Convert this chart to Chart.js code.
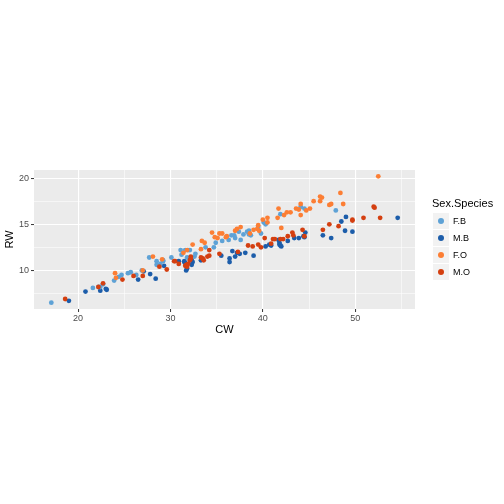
<!DOCTYPE html>
<html lang="en">
<head>
    <meta charset="UTF-8">
    <title>crabs CW vs RW</title>
    <script src="https://cdn.jsdelivr.net/npm/chart.js"></script>
    <style>
        body { margin: 0; background: #ffffff; font-family: "Liberation Sans", Arial, sans-serif; }
        #wrap { position: relative; width: 504px; height: 504px; }
        canvas { position: absolute; left: 0; top: 0; }
        #legend { position: absolute; left: 432px; top: 195px; color: #000; }
        #legend .ttl { font-size: 11px; height: 17px; line-height: 16px; }
        #legend .row { display: flex; align-items: center; height: 17px; }
        #legend .key { width: 16px; height: 16px; background: #f2f2f2; border: 0.5px solid #fff; position: relative; }
        #legend .dot { position: absolute; left: 5px; top: 5px; width: 6px; height: 6px; border-radius: 50%; }
        #legend .lab { font-size: 9px; margin-left: 3px; }
    </style>
</head>
<body>
<div id="wrap">
    <canvas id="chart" width="504" height="504"></canvas>
    <div id="legend"></div>
</div>
<script>
// crabs data, CW (carapace width) and RW (rear width)
const groups = ['F.B', 'M.B', 'F.O', 'M.O'];
const colors = ['#5ea2d6', '#1c5daa', '#fc7e34', '#d43f10'];

const fbCW = [17.1,22.7,21.6,22.2,22.4,23.9,24.4,24.7,25.4,26.3,25.7,26.9,29.2,28.5,27.7,28.5,30.1,28.9,29.2,31.6,
              31.2,31.1,31.9,31.8,32.6,32.1,32.7,33.8,34.9,34.7,35.6,36.9,37.4,36.3,37.0,36.6,38.5,38.3,37.6,38.7,
              37.9,39.5,38.5,40.3,40.1,39.8,41.9,44.1,44.5,47.9];
const fbRW = [6.5,8.5,8.1,8.2,8.2,8.9,9.3,9.5,9.7,9.5,9.8,10.0,11.0,11.0,11.4,10.6,11.4,10.7,11.1,12.2,
              11.7,12.2,12.2,11.4,11.5,12.2,11.8,12.5,13.0,12.5,13.2,13.8,14.2,13.3,13.5,13.8,14.3,14.2,13.3,13.8,
              13.9,14.7,13.9,15.0,15.2,14.0,16.1,16.9,16.7,16.5];

const mbCW = [19.0,20.8,22.4,23.1,23.0,26.5,27.1,28.4,27.8,29.3,31.6,31.5,31.7,31.8,31.5,30.9,32.3,32.4,32.3,33.3,
              35.5,36.4,36.4,37.0,37.2,36.7,37.5,40.3,38.1,39.0,40.7,41.7,40.9,41.8,43.4,41.8,42.7,42.0,41.9,43.9,
              44.5,44.6,44.4,49.0,47.4,46.5,48.5,49.7,48.9,54.6];
const mbRW = [6.7,7.7,7.8,7.9,8.0,9.0,9.9,9.1,9.6,10.5,10.8,11.0,10.0,10.2,10.9,11.0,10.6,10.9,11.1,11.1,
              11.6,11.3,10.9,11.5,11.9,12.1,11.8,12.6,11.9,11.6,12.8,13.3,12.7,13.0,13.5,12.8,13.2,12.6,12.7,13.5,
              13.6,14.1,13.7,15.8,13.5,13.8,15.3,14.2,14.3,15.7];

const foCW = [24.0,24.1,27.0,28.1,29.1,31.4,32.4,31.8,33.4,33.7,33.3,35.1,35.3,34.5,34.8,36.0,36.1,35.6,37.0,37.2,
              39.6,39.0,37.6,38.6,39.5,43.0,40.5,40.0,41.6,42.0,39.4,40.5,41.7,42.3,42.6,43.6,43.9,46.4,45.1,44.1,
              44.1,45.5,46.2,44.7,48.4,46.2,47.2,47.4,48.7,52.5];
const foRW = [9.7,9.2,10.0,11.5,11.2,11.9,12.8,12.2,13.2,13.0,12.3,13.5,14.0,14.1,13.6,13.6,13.7,14.0,14.3,14.5,
              14.3,14.4,14.7,14.0,14.9,16.3,15.7,15.5,15.7,14.6,14.5,15.2,16.7,16.0,16.3,16.7,16.6,17.9,16.7,17.2,
              16.0,17.5,17.5,16.5,18.4,18.0,17.1,17.2,17.2,20.2];

const moCW = [18.6,22.2,22.7,24.8,26.0,27.0,28.8,30.4,29.6,30.5,32.2,31.8,31.6,31.9,31.7,30.9,32.2,33.5,32.1,33.3,
              34.0,33.6,34.2,35.3,34.2,38.9,39.5,37.3,38.4,39.8,40.9,41.3,42.7,42.2,41.9,40.2,41.1,43.3,43.2,44.3,
              44.5,46.5,47.2,49.7,49.7,48.2,50.9,52.0,52.7,52.1];
const moRW = [6.9,8.2,8.6,9.0,9.4,9.4,10.4,11.0,10.1,11.0,11.5,10.4,10.5,10.7,10.6,10.7,11.3,11.3,11.1,11.4,
              11.5,11.1,12.2,11.8,11.6,12.6,12.8,12.0,12.7,12.5,12.9,13.4,13.7,13.4,13.4,13.5,13.4,13.8,14.1,14.4,
              13.7,14.4,15.0,15.5,15.4,14.8,15.7,16.9,15.7,16.8];

const xTicks = [20, 30, 40, 50];
const yTicks = [10, 15, 20];

const cwAll = [fbCW, mbCW, foCW, moCW];
const rwAll = [fbRW, mbRW, foRW, moRW];
// drawing order as in the data rows: M.B, F.B, M.O, F.O
const drawOrder = [3, 4, 1, 2];

function pts(xs, ys) { return xs.map((x, i) => ({ x: x, y: ys[i] })); }

function expand(arrs) {
    const all = [].concat(...arrs);
    const lo = Math.min(...all), hi = Math.max(...all);
    const pad = (hi - lo) * 0.05;
    return [lo - pad, hi + pad];
}
const xr = expand(cwAll);
const yr = expand(rwAll);

const datasets = groups.map((g, i) => ({
    label: g,
    data: pts(cwAll[i], rwAll[i]),
    backgroundColor: colors[i],
    borderWidth: 0,
    pointRadius: 2.4,
    order: drawOrder[i]
}));

const isMajor = (v, list) => list.some(t => Math.abs(t - v) < 1e-6);

const panelBg = {
    id: 'panelBg',
    beforeDraw(chart) {
        const a = chart.chartArea, c = chart.ctx;
        c.save();
        c.fillStyle = '#ebebeb';
        c.fillRect(a.left, a.top, a.right - a.left, a.bottom - a.top);
        c.restore();
    }
};

new Chart(document.getElementById('chart'), {
    type: 'scatter',
    data: { datasets: datasets },
    plugins: [panelBg],
    options: {
        responsive: false,
        animation: false,
        layout: { padding: { left: 0, top: 170, right: 89, bottom: 165 } },
        plugins: { legend: { display: false }, tooltip: { enabled: false } },
        scales: {
            x: {
                type: 'linear',
                min: xr[0], max: xr[1],
                afterFit(s) { s.height = 30; },
                border: { display: false },
                grid: {
                    color: '#ffffff',
                    lineWidth: c => isMajor(c.tick.value, xTicks) ? 1.1 : 0.55,
                    tickColor: c => isMajor(c.tick.value, xTicks) ? '#333333' : 'rgba(0,0,0,0)',
                    tickLength: 3,
                    tickWidth: 1
                },
                ticks: {
                    stepSize: 5,
                    includeBounds: false,
                    autoSkip: false,
                    maxRotation: 0,
                    padding: 1,
                    color: '#4d4d4d',
                    font: { family: 'Liberation Sans', size: 9 },
                    callback: v => isMajor(v, xTicks) ? String(v) : ''
                },
                title: {
                    display: true, text: 'CW', color: '#000000',
                    font: { family: 'Liberation Sans', size: 11 },
                    padding: { top: 0, bottom: 2 }
                }
            },
            y: {
                type: 'linear',
                min: yr[0], max: yr[1],
                afterFit(s) { s.width = 34; },
                border: { display: false },
                grid: {
                    color: '#ffffff',
                    lineWidth: c => isMajor(c.tick.value, yTicks) ? 1.1 : 0.55,
                    tickColor: c => isMajor(c.tick.value, yTicks) ? '#333333' : 'rgba(0,0,0,0)',
                    tickLength: 3,
                    tickWidth: 1
                },
                ticks: {
                    stepSize: 2.5,
                    includeBounds: false,
                    autoSkip: false,
                    padding: 2,
                    color: '#4d4d4d',
                    font: { family: 'Liberation Sans', size: 9 },
                    callback: v => isMajor(v, yTicks) ? String(v) : ''
                },
                title: {
                    display: true, text: 'RW', color: '#000000',
                    font: { family: 'Liberation Sans', size: 11 },
                    padding: { top: 3, bottom: 0 }
                }
            }
        }
    }
});

// legend in the ggplot style
const leg = document.getElementById('legend');
let html = '<div class="ttl">Sex.Species</div>';
groups.forEach((g, i) => {
    html += '<div class="row"><div class="key"><div class="dot" style="background:' + colors[i] + '"></div></div>' +
            '<span class="lab">' + g + '</span></div>';
});
leg.innerHTML = html;
</script>
</body>
</html>
